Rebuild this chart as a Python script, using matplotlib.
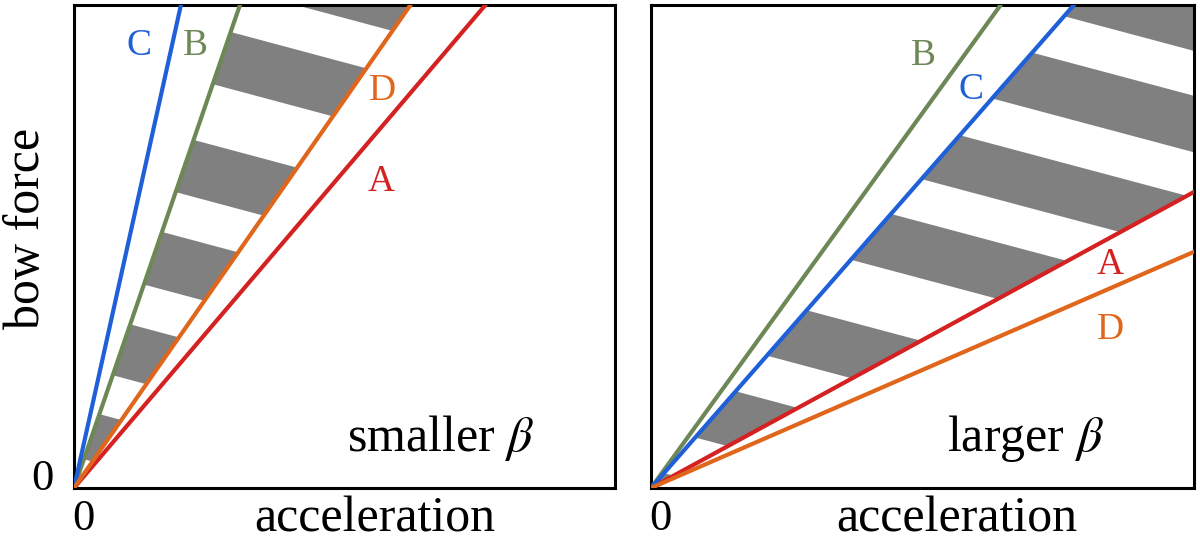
import matplotlib
matplotlib.use("Agg")
from matplotlib import pyplot as plt
from matplotlib.patches import Polygon

plt.rcParams['font.family'] = ['Liberation Serif', 'DejaVu Serif']
plt.rcParams['mathtext.fontset'] = 'stix'

# slopes of the four lines (bow force / acceleration), axes run 0..1
names = ["A", "B", "C", "D"]
colors = {"A": "#d42121", "B": "#6e8757", "C": "#1f5fd8", "D": "#e0661c"}
left_slopes = {"A": 1.315, "B": 3.26, "C": 5.06, "D": 1.608}
right_slopes = {"A": 0.613, "B": 1.553, "C": 1.284, "D": 0.489}

# gray stripes: bands of y + tilt*x
tilt = 0.30
left_bands = [(0.065, 0.167), (0.255, 0.370), (0.460, 0.579), (0.669, 0.787),
              (0.913, 1.031), (1.123, 1.60)]
right_bands = [(-0.10, 0.038), (0.129, 0.247), (0.338, 0.454), (0.583, 0.700),
               (0.789, 0.901), (0.995, 1.112), (1.205, 1.60)]

left_labels = {"C": (0.121, 0.915), "B": (0.224, 0.915), "D": (0.571, 0.822), "A": (0.568, 0.634)}
right_labels = {"B": (0.502, 0.894), "C": (0.590, 0.824), "A": (0.845, 0.462), "D": (0.847, 0.327)}

fig = plt.figure(figsize=(12, 5.43), dpi=100)
ax1 = fig.add_axes([74 / 1200, 55 / 543, 541 / 1200, 483 / 543])
ax2 = fig.add_axes([651 / 1200, 55 / 543, 543 / 1200, 483 / 543])


def draw_panel(ax, slopes, bands, lo, hi, labels, note, note_x):
    ax.set_xlim(0, 1)
    ax.set_ylim(0, 1)
    ax.set_xticks([])
    ax.set_yticks([])
    for sp in ax.spines.values():
        sp.set_linewidth(2.2)

    # wedge between the two lines that holds the stripes
    wedge = Polygon([(0, 0), (3, 3 * slopes[lo]), (3, 3 * slopes[hi])],
                    closed=True, transform=ax.transData, fill=False, lw=0)
    for c0, c1 in bands:
        band = Polygon([(-1, c0 + tilt), (3, c0 - 3 * tilt), (3, c1 - 3 * tilt), (-1, c1 + tilt)],
                       closed=True, facecolor="#808080", edgecolor="none", zorder=1)
        ax.add_patch(band)
        band.set_clip_path(wedge)

    for n in names:
        ax.plot([0, 1.2], [0, 1.2 * slopes[n]], color=colors[n], lw=3.0,
                solid_capstyle='butt', zorder=3)
    for n, (x, y) in labels.items():
        ax.text(x, y, n, color=colors[n], fontsize=27, ha='center', va='center')

    ax.text(note_x, 0.0766, note, fontsize=36, ha='center', va='baseline')
    ax.text(0.556 if ax is ax1 else 0.564, -0.064, "acceleration", fontsize=36,
            ha='center', va='center', transform=ax.transAxes)
    ax.text(0.018, -0.064, "0", fontsize=32, ha='center', va='center',
            transform=ax.transAxes)


draw_panel(ax1, left_slopes, left_bands, "D", "B", left_labels, r"smaller $\beta$", 0.678)
draw_panel(ax2, right_slopes, right_bands, "A", "C", right_labels, r"larger $\beta$", 0.689)

ax1.text(-0.059, 0.019, "0", fontsize=32, ha='center', va='center', transform=ax1.transAxes)
fig.text(27 / 1200, 1 - 228 / 543, "bow force", fontsize=36, rotation=90,
         ha='center', va='center')

fig.savefig("out.png", dpi=100)
